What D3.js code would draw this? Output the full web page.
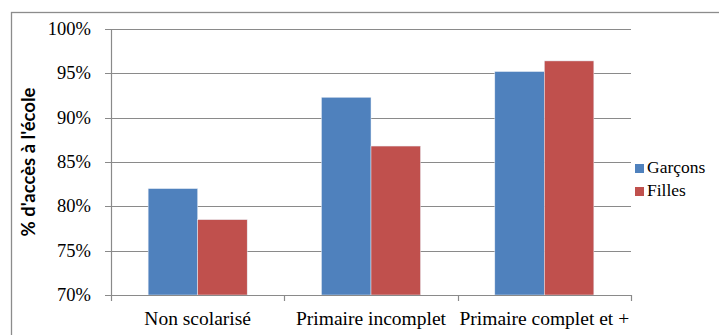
<!DOCTYPE html>
<html><head><meta charset="utf-8">
<script src="https://cdn.jsdelivr.net/npm/d3@7"></script>
<style>body{margin:0;background:#fff;}svg{display:block;}</style>
</head><body>
<svg id="c" width="719" height="335"></svg>
<script>
const categories = ["Non scolarisé", "Primaire incomplet", "Primaire complet et +"];
const seriesNames = ["Garçons", "Filles"];
const garcons = [82.0, 92.3, 95.2];
const filles = [78.5, 86.8, 96.4];
const yTicks = [70, 75, 80, 85, 90, 95, 100];
const colors = ["#4F81BD", "#C0504D"];

const SERIF = "'Liberation Serif', serif";
const svg = d3.select("#c");
const m = {left: 111, right: 631, top: 29, bottom: 295};

// outer frame
svg.append("rect").attr("x", 11.5).attr("y", 12.5).attr("width", 760).attr("height", 400)
  .attr("fill", "none").attr("stroke", "#8c8c8c").attr("stroke-width", 1.3);

const x = d3.scaleBand().domain(categories).range([m.left, m.right]);
const inner = d3.scaleBand().domain(seriesNames).range([0, x.bandwidth()]).paddingInner(0).paddingOuter(0.75);
const y = d3.scaleLinear().domain([70, 100]).range([m.bottom, m.top]);

// gridlines
svg.append("g").selectAll("line").data(yTicks).join("line")
  .attr("x1", m.left - 6).attr("x2", m.right)
  .attr("y1", d => Math.round(y(d)) + 0.5).attr("y2", d => Math.round(y(d)) + 0.5)
  .attr("stroke", "#8a8a8a").attr("stroke-width", 1.2);

// y tick labels
svg.append("g").selectAll("text").data(yTicks).join("text")
  .attr("x", 91).attr("y", d => y(d) + 6)
  .attr("text-anchor", "end").style("font-family", SERIF).style("font-size", "18.5px")
  .attr("fill", "#000").text(d => d + "%");

// bars
const data = categories.map((c, i) => ({c, vals: [garcons[i], filles[i]]}));
const g = svg.append("g");
data.forEach(d => {
  d.vals.forEach((v, j) => {
    g.append("rect")
      .attr("x", x(d.c) + inner(seriesNames[j]))
      .attr("y", y(v))
      .attr("width", inner.bandwidth())
      .attr("height", y(70) - y(v))
      .attr("fill", colors[j])
      .attr("stroke", "#e8eef6").attr("stroke-width", 0.5);
  });
});

// y axis line
svg.append("line").attr("x1", m.left + 0.5).attr("x2", m.left + 0.5).attr("y1", m.top).attr("y2", m.bottom)
  .attr("stroke", "#8a8a8a").attr("stroke-width", 1.2);
// x axis line
svg.append("line").attr("x1", m.left).attr("x2", m.right).attr("y1", Math.round(y(70)) + 0.5).attr("y2", Math.round(y(70)) + 0.5)
  .attr("stroke", "#8a8a8a").attr("stroke-width", 1.2);
// x ticks between categories
const xt = [m.left, ...categories.map(c => x(c) + x.bandwidth())];
svg.append("g").selectAll("line").data(xt).join("line")
  .attr("x1", d => Math.round(d) + 0.5).attr("x2", d => Math.round(d) + 0.5)
  .attr("y1", y(70)).attr("y2", y(70) + 6)
  .attr("stroke", "#8a8a8a").attr("stroke-width", 1.2);

// category labels
svg.append("g").selectAll("text").data(categories).join("text")
  .attr("x", d => x(d) + x.bandwidth() / 2).attr("y", 325)
  .attr("text-anchor", "middle").style("font-family", SERIF).style("font-size", "19.5px")
  .attr("fill", "#000").text(d => d);

// y axis title
svg.append("text").attr("transform", "translate(35,162) rotate(-90)")
  .attr("text-anchor", "middle").style("font-family", "Lato")
  .attr("font-weight", "bold").style("font-size", "18.5px").attr("fill", "#000")
  .text("% d'accès à l'école");

// legend
const leg = svg.append("g");
seriesNames.forEach((s, i) => {
  leg.append("rect").attr("x", 635).attr("y", 164 + i * 23).attr("width", 9).attr("height", 9).attr("fill", colors[i]);
  leg.append("text").attr("x", 647).attr("y", 172.5 + i * 23)
    .style("font-family", SERIF).style("font-size", "17.5px").attr("fill", "#000").text(s);
});
</script>
</body></html>
